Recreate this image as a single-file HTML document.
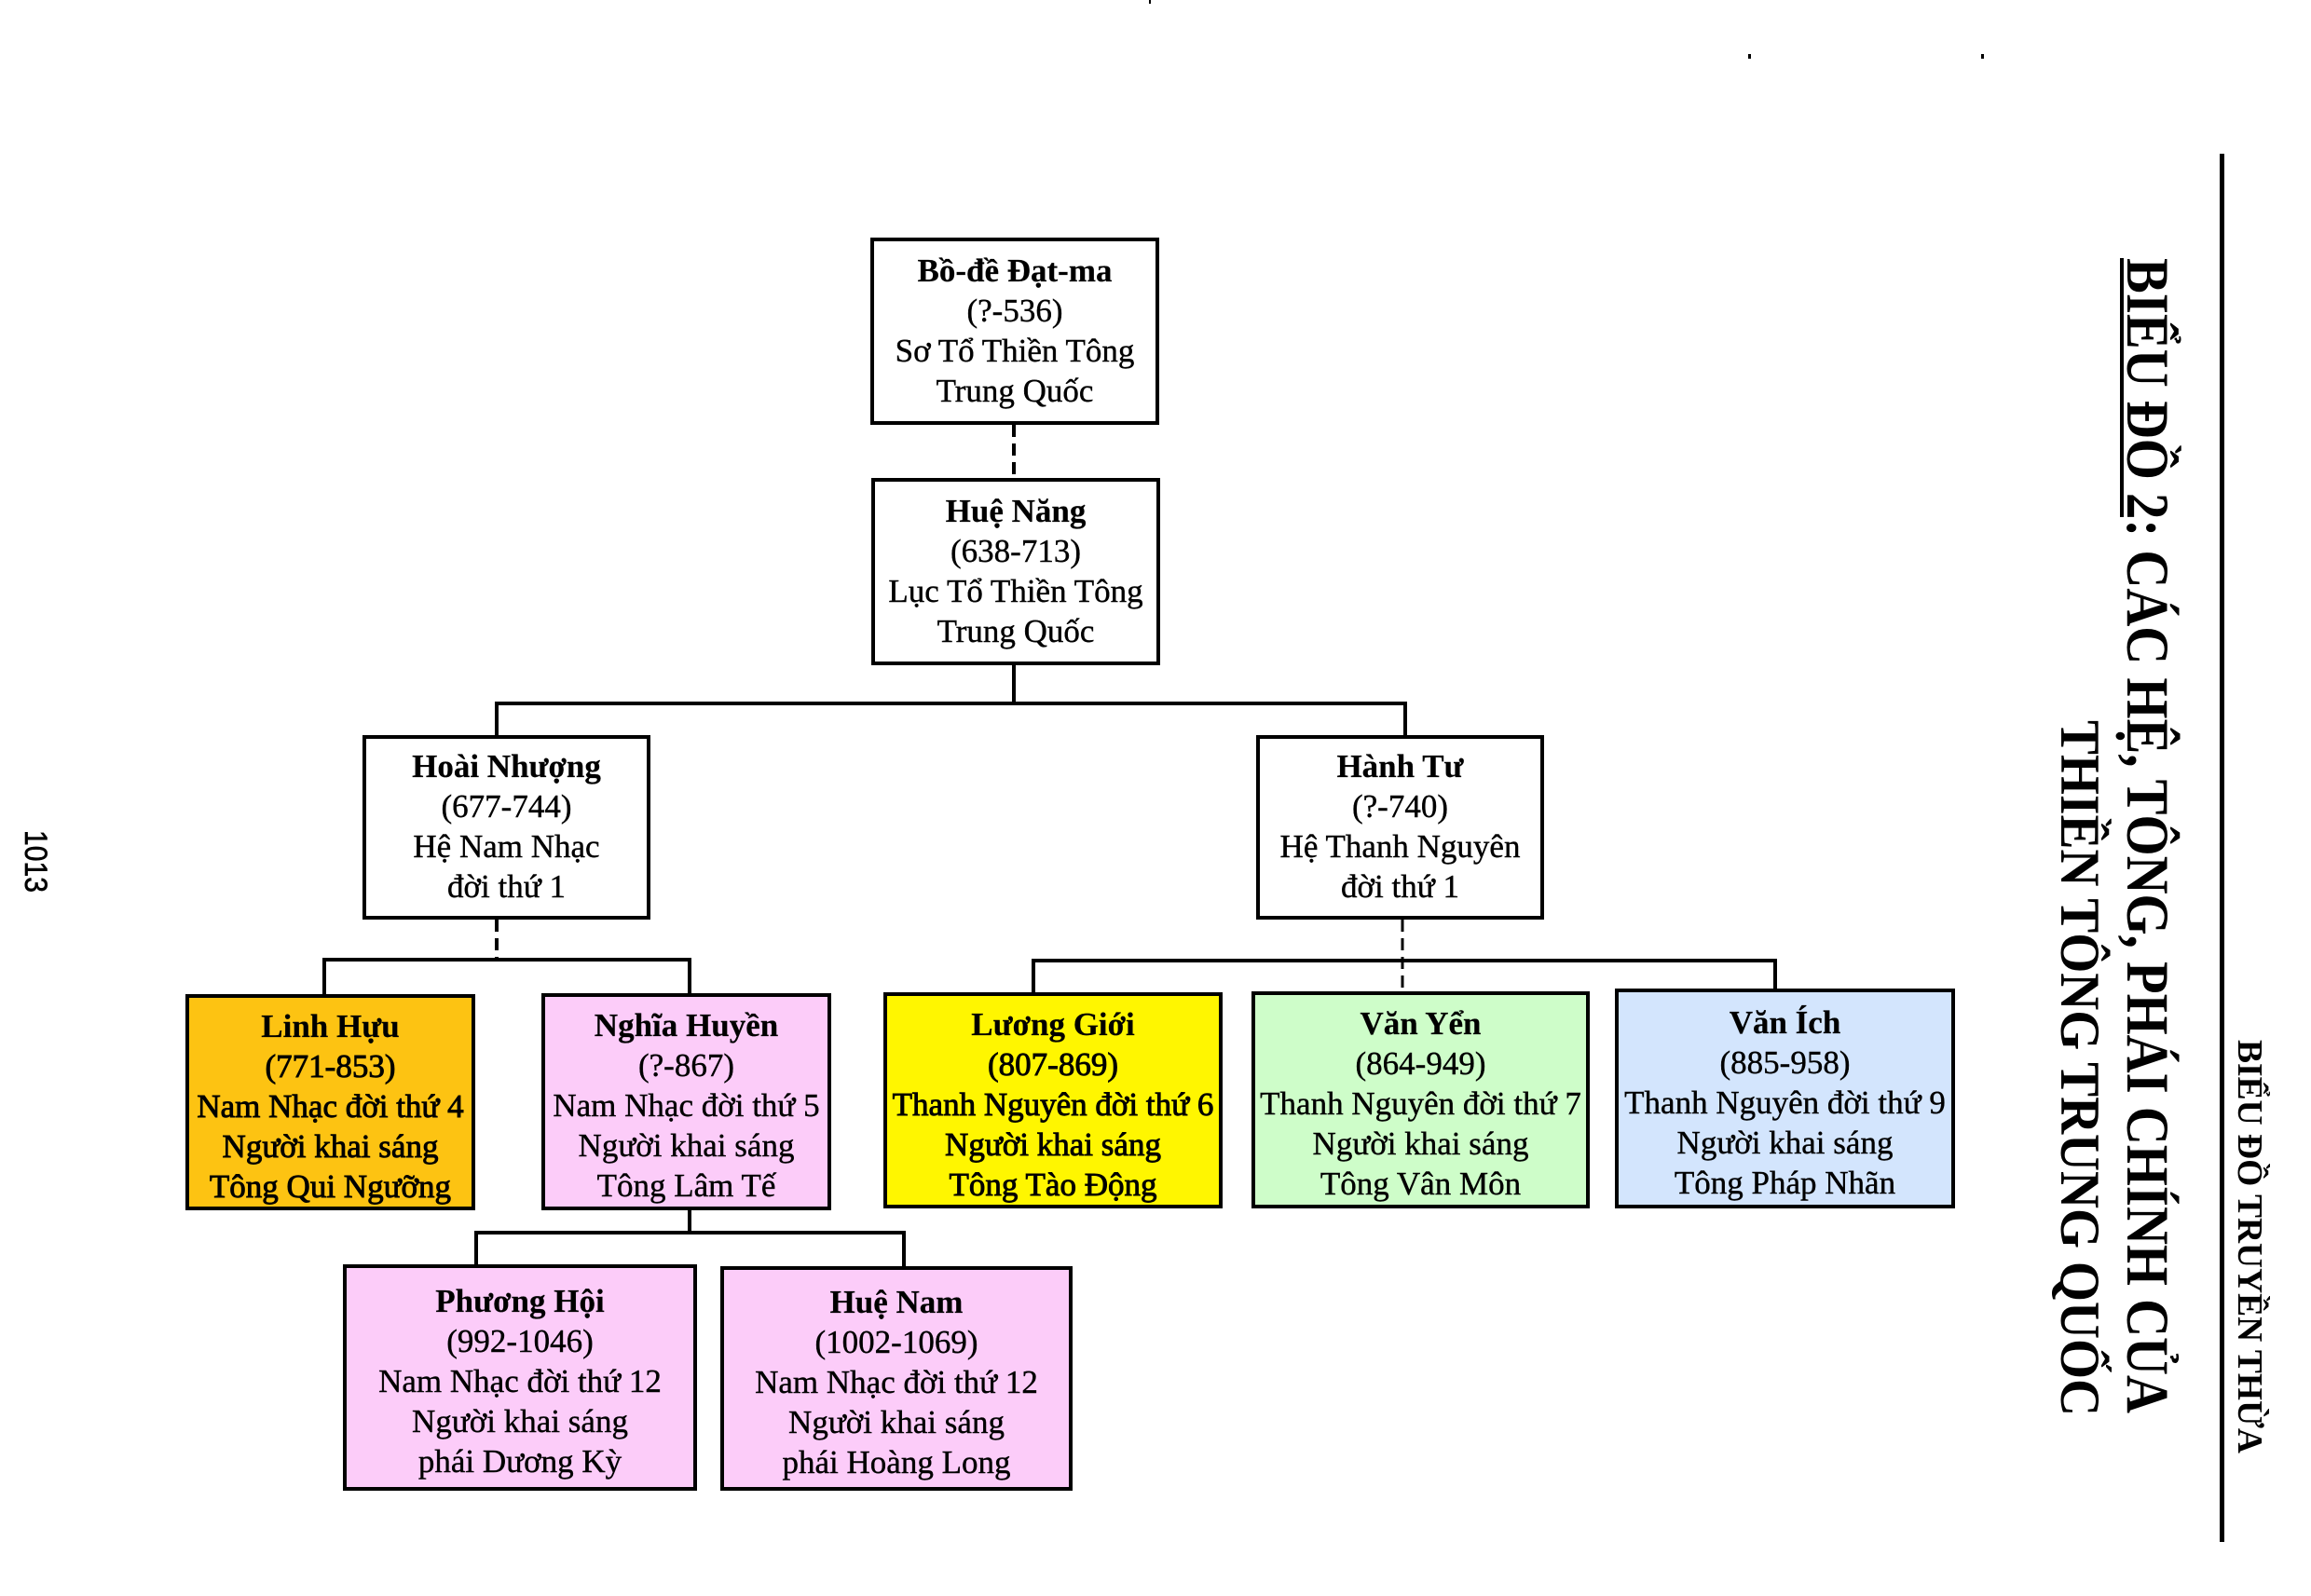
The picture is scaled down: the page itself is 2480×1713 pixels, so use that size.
<!DOCTYPE html>
<html>
<head>
<meta charset="utf-8">
<style>
  html, body { margin:0; padding:0; }
  body { width:2480px; height:1713px; background:#fff; position:relative; overflow:hidden; }
  .b { position:absolute; box-sizing:border-box; border:4px solid #000;
       display:flex; flex-direction:column; justify-content:center; align-items:center;
       font-family:"Liberation Serif", serif; font-size:35px; line-height:43px;
       text-align:center; white-space:nowrap; color:#000; padding-top:8px;
       -webkit-text-stroke:0.4px #000; }
  .b div { height:43px; }
  .b .n { font-weight:bold; -webkit-text-stroke:0.2px #000; }
  .dark { -webkit-text-stroke:0.9px #000; }
  .w { background:#fff; padding-top:0; padding-bottom:2px; }
  .or { background:#FDC312; }
  .pk { background:#FCCCF9; }
  .ye { background:#FFF600; }
  .gr { background:#CEFDC9; }
  .bl { background:#D3E5FD; }
  svg { position:absolute; left:0; top:0; }
</style>
</head>
<body>
<svg width="2480" height="1713" viewBox="0 0 2480 1713">
  <g stroke="#000" stroke-width="4" fill="none">
    <path d="M1088 456 V513" stroke-dasharray="13 7"/>
    <path d="M1088 714 V755"/>
    <path d="M531 755 H1510"/>
    <path d="M533 755 V789"/>
    <path d="M1508 755 V789"/>
    <path d="M533 987 V1030" stroke-dasharray="13 7"/>
    <path d="M346 1030 H742"/>
    <path d="M348 1030 V1067"/>
    <path d="M740 1030 V1066"/>
    <path d="M1505 987 V1064" stroke-width="3" stroke-dasharray="13 7"/>
    <path d="M1107 1031 H1907"/>
    <path d="M1109 1031 V1065"/>
    <path d="M1905 1031 V1061"/>
    <path d="M740 1299 V1323"/>
    <path d="M509 1323 H972"/>
    <path d="M511 1323 V1357"/>
    <path d="M970 1323 V1359"/>
  </g>
  <!-- right vertical rule -->
  <rect x="2382" y="165" width="5" height="1490" fill="#000"/>
  <!-- title underline -->
  <rect x="2275" y="277" width="4" height="278" fill="#000"/>
  <!-- small dots -->
  <rect x="1876" y="58" width="3" height="5" fill="#000"/>
  <rect x="2126" y="58" width="3" height="5" fill="#000"/>
  <rect x="1233" y="0" width="2" height="4" fill="#000"/>
  <!-- title -->
  <text transform="translate(2283,277) rotate(90)" font-family="Liberation Serif, serif" font-weight="bold" font-size="65" textLength="1240" lengthAdjust="spacingAndGlyphs" fill="#000">BIỂU ĐỒ 2: CÁC HỆ, TÔNG, PHÁI CHÍNH CỦA</text>
  <text transform="translate(2212,773) rotate(90)" font-family="Liberation Serif, serif" font-weight="bold" font-size="60" textLength="747" lengthAdjust="spacingAndGlyphs" fill="#000">THIỀN TÔNG TRUNG QUỐC</text>
  <text transform="translate(2402,1116) rotate(90)" font-family="Liberation Serif, serif" font-weight="bold" font-size="38" textLength="444" lengthAdjust="spacingAndGlyphs" fill="#000">BIỂU ĐỒ TRUYỀN THỪA</text>
  <!-- page number -->
  <text transform="translate(27,891) rotate(90)" font-family="Liberation Sans, sans-serif" font-size="34" textLength="67" lengthAdjust="spacingAndGlyphs" fill="#000" stroke="#000" stroke-width="0.6">1013</text>
</svg>

<div class="b w" style="left:934px;top:255px;width:310px;height:201px;">
  <div class="n">Bồ-đề Đạt-ma</div><div>(?-536)</div><div>Sơ Tổ Thiền Tông</div><div>Trung Quốc</div>
</div>
<div class="b w" style="left:935px;top:513px;width:310px;height:201px;">
  <div class="n">Huệ Năng</div><div>(638-713)</div><div>Lục Tổ Thiền Tông</div><div>Trung Quốc</div>
</div>
<div class="b w" style="left:389px;top:789px;width:309px;height:198px;">
  <div class="n">Hoài Nhượng</div><div>(677-744)</div><div>Hệ Nam Nhạc</div><div>đời thứ 1</div>
</div>
<div class="b w" style="left:1348px;top:789px;width:309px;height:198px;">
  <div class="n">Hành Tư</div><div>(?-740)</div><div>Hệ Thanh Nguyên</div><div>đời thứ 1</div>
</div>

<div class="b or dark" style="left:199px;top:1067px;width:311px;height:232px;">
  <div class="n">Linh Hựu</div><div>(771-853)</div><div>Nam Nhạc đời thứ 4</div><div>Người khai sáng</div><div>Tông Qui Ngưỡng</div>
</div>
<div class="b pk" style="left:581px;top:1066px;width:311px;height:233px;">
  <div class="n">Nghĩa Huyền</div><div>(?-867)</div><div>Nam Nhạc đời thứ 5</div><div>Người khai sáng</div><div>Tông Lâm Tế</div>
</div>
<div class="b ye dark" style="left:948px;top:1065px;width:364px;height:232px;">
  <div class="n">Lương Giới</div><div>(807-869)</div><div>Thanh Nguyên đời thứ 6</div><div>Người khai sáng</div><div>Tông Tào Động</div>
</div>
<div class="b gr" style="left:1343px;top:1064px;width:363px;height:233px;">
  <div class="n">Văn Yển</div><div>(864-949)</div><div>Thanh Nguyên đời thứ 7</div><div>Người khai sáng</div><div>Tông Vân Môn</div>
</div>
<div class="b bl" style="left:1733px;top:1061px;width:365px;height:236px;">
  <div class="n">Văn Ích</div><div>(885-958)</div><div>Thanh Nguyên đời thứ 9</div><div>Người khai sáng</div><div>Tông Pháp Nhãn</div>
</div>

<div class="b pk" style="left:368px;top:1357px;width:380px;height:243px;">
  <div class="n">Phương Hội</div><div>(992-1046)</div><div>Nam Nhạc đời thứ 12</div><div>Người khai sáng</div><div>phái Dương Kỳ</div>
</div>
<div class="b pk" style="left:773px;top:1359px;width:378px;height:241px;">
  <div class="n">Huệ Nam</div><div>(1002-1069)</div><div>Nam Nhạc đời thứ 12</div><div>Người khai sáng</div><div>phái Hoàng Long</div>
</div>
</body>
</html>
